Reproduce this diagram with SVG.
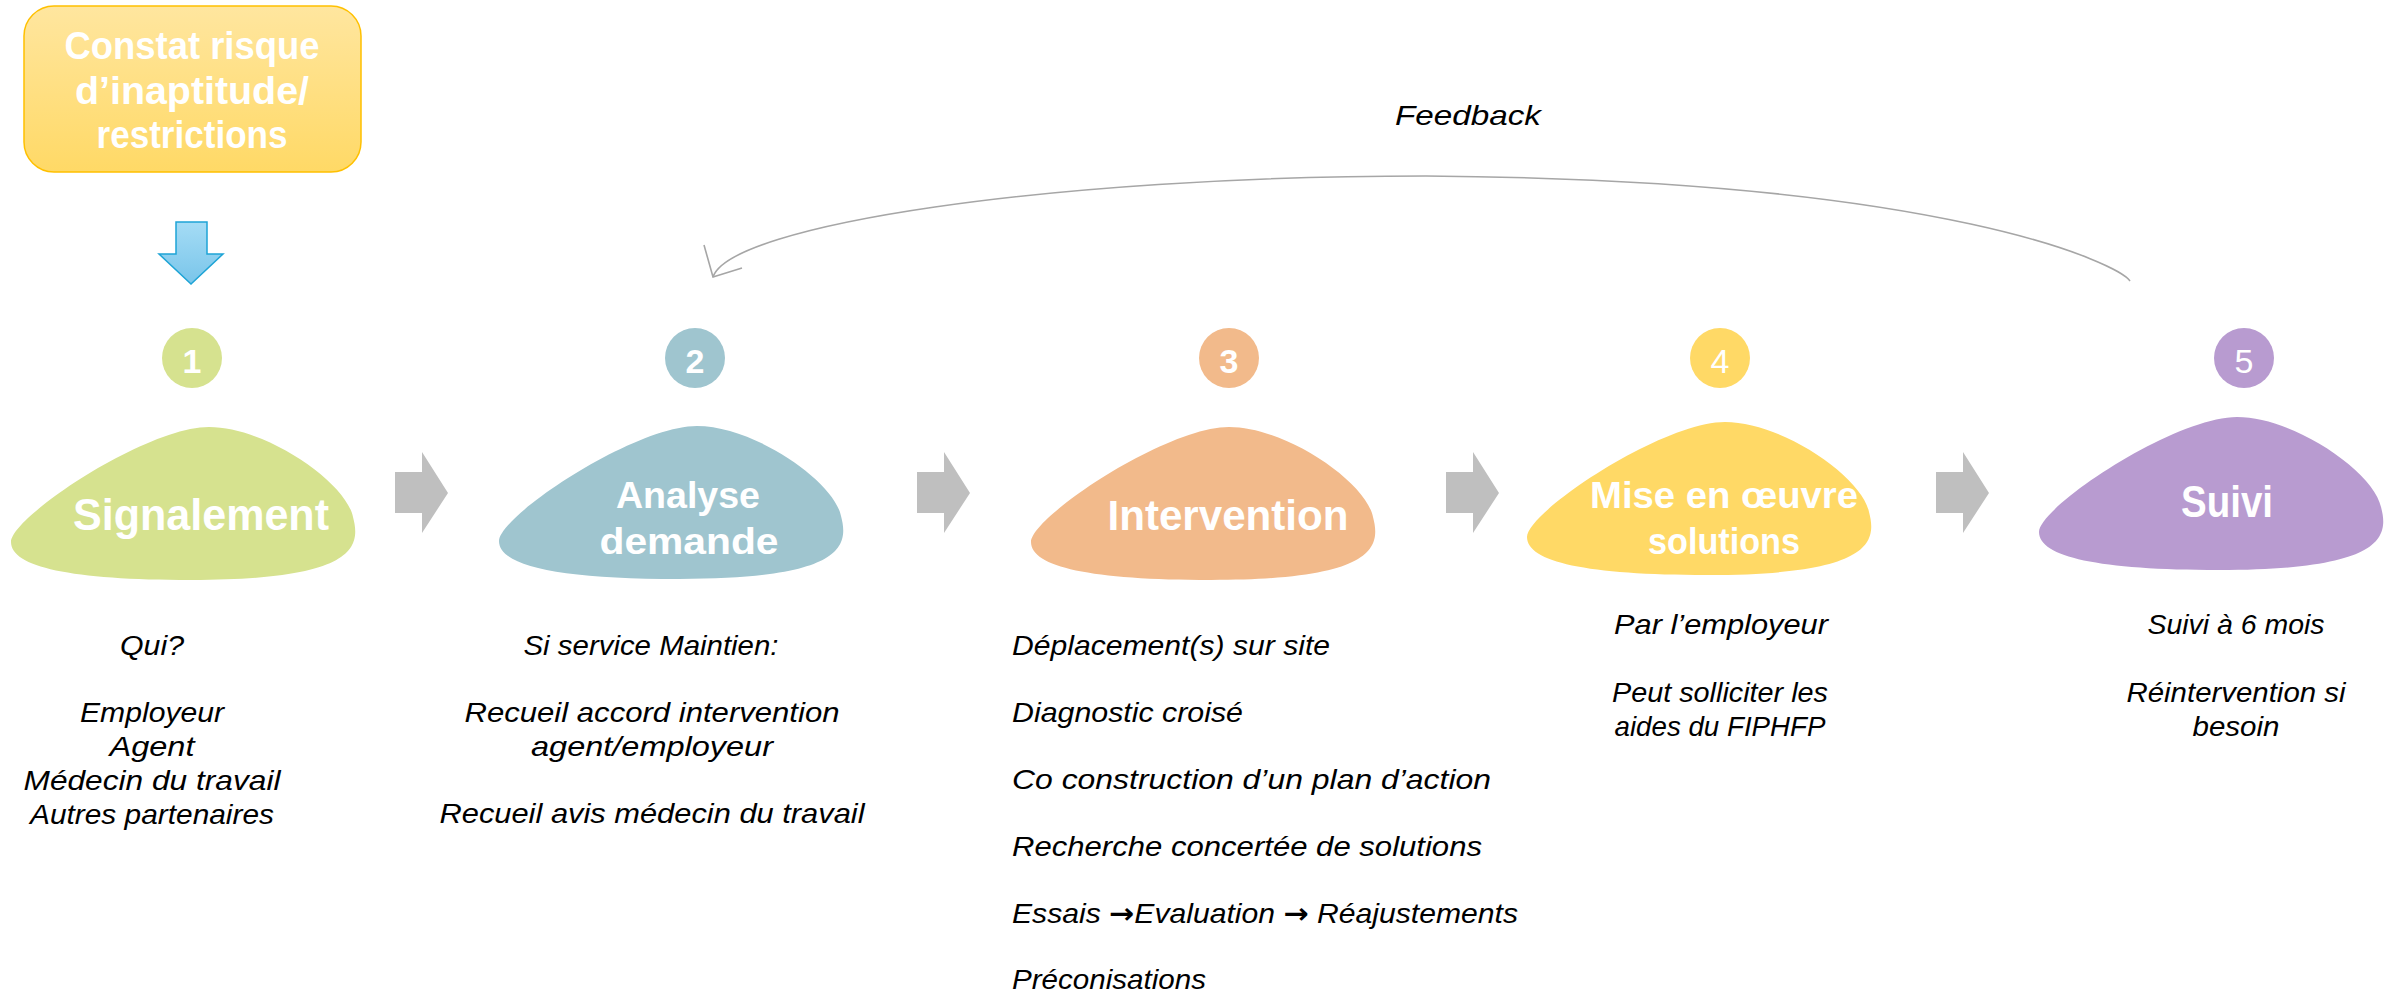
<svg xmlns="http://www.w3.org/2000/svg" xmlns:xlink="http://www.w3.org/1999/xlink" width="2400" height="996" viewBox="0 0 2400 996">
<style>
.title{font-family:"Liberation Sans",Arial,sans-serif;font-weight:bold;fill:#FFFFFF;text-anchor:middle}
.num{font-family:"Liberation Sans",Arial,sans-serif;fill:#FFFFFF;text-anchor:middle;font-size:34px}
.body{font-family:"Liberation Sans",Arial,sans-serif;font-style:italic;fill:#000000;font-size:28px}
.arr{font-family:"DejaVu Sans",sans-serif;font-style:normal;font-weight:bold}
.c{text-anchor:middle}
.conn{fill:#BFBFBF}
.fb{fill:none;stroke:#A6A6A6;stroke-width:1.6}
</style>
<defs>
<linearGradient id="gBox" x1="0" y1="0" x2="0" y2="1">
<stop offset="0" stop-color="#FFE69F"/>
<stop offset="1" stop-color="#FFD966"/>
</linearGradient>
<linearGradient id="gBlue" x1="0" y1="0" x2="0" y2="1">
<stop offset="0" stop-color="#A5DCF5"/>
<stop offset="1" stop-color="#79C5EA"/>
</linearGradient>
<path id="blob" d="M198,0 C255,0 335,55 342,90 C350,120 345,153 180,153 C60,153 0,140 0,115 C0,90 135,0 198,0 Z"/>
<path id="garrow" d="M0,20 H27 V0 L53,41 L27,81 V61 H0 Z"/>
</defs>

<g id="constat">
<rect x="24" y="6" width="337" height="166" rx="30" ry="30" fill="url(#gBox)" stroke="#FFC000" stroke-width="1.5"/>
<text class="title" font-size="38" x="192" y="59" textLength="255" lengthAdjust="spacingAndGlyphs">Constat risque</text>
<text class="title" font-size="38" x="192" y="104" textLength="234" lengthAdjust="spacingAndGlyphs">d’inaptitude/</text>
<text class="title" font-size="38" x="192" y="148" textLength="191" lengthAdjust="spacingAndGlyphs">restrictions</text>
</g>

<g id="down-arrow">
<path d="M176,222 H207 V254 H223 L191,284 L159,254 H176 Z" fill="url(#gBlue)" stroke="#1EA4D6" stroke-width="1.5"/>
</g>

<g id="connectors">
<use xlink:href="#garrow" href="#garrow" class="conn" transform="translate(395,452)"/>
<use xlink:href="#garrow" href="#garrow" class="conn" transform="translate(917,452)"/>
<use xlink:href="#garrow" href="#garrow" class="conn" transform="translate(1446,452)"/>
<use xlink:href="#garrow" href="#garrow" class="conn" transform="translate(1936,452)"/>
<path class="fb" d="M2130,281 C2120,265 1950,180 1426,176 C1050,176 730,225 713,277"/>
<path class="fb" d="M704,245 L713,277 L742,268"/>
<text class="body c" x="1468" y="125" textLength="146" lengthAdjust="spacingAndGlyphs">Feedback</text>
</g>

<g id="step1">
<circle cx="192" cy="358" r="30" fill="#D6E28F"/>
<text class="num" font-weight="bold" x="192" y="373">1</text>
<use xlink:href="#blob" href="#blob" transform="translate(11,427)" fill="#D6E28F"/>
<text class="title" font-size="44" x="201" y="530" textLength="256" lengthAdjust="spacingAndGlyphs">Signalement</text>
<text class="body c" x="152" y="655" textLength="64" lengthAdjust="spacingAndGlyphs">Qui?</text>
<text class="body c" x="152" y="722" textLength="144" lengthAdjust="spacingAndGlyphs">Employeur</text>
<text class="body c" x="152" y="756" textLength="85" lengthAdjust="spacingAndGlyphs">Agent</text>
<text class="body c" x="152" y="790" textLength="257" lengthAdjust="spacingAndGlyphs">Médecin du travail</text>
<text class="body c" x="152" y="824" textLength="244" lengthAdjust="spacingAndGlyphs">Autres partenaires</text>
</g>

<g id="step2">
<circle cx="695" cy="358" r="30" fill="#9FC5CF"/>
<text class="num" font-weight="bold" x="695" y="373">2</text>
<use xlink:href="#blob" href="#blob" transform="translate(499,426)" fill="#9FC5CF"/>
<text class="title" font-size="36" x="688" y="508" textLength="144" lengthAdjust="spacingAndGlyphs">Analyse</text>
<text class="title" font-size="36" x="689" y="554" textLength="179" lengthAdjust="spacingAndGlyphs">demande</text>
<text class="body c" x="651" y="655" textLength="255" lengthAdjust="spacingAndGlyphs">Si service Maintien:</text>
<text class="body c" x="652" y="722" textLength="375" lengthAdjust="spacingAndGlyphs">Recueil accord intervention</text>
<text class="body c" x="652" y="756" textLength="242" lengthAdjust="spacingAndGlyphs">agent/employeur</text>
<text class="body c" x="652" y="823" textLength="425" lengthAdjust="spacingAndGlyphs">Recueil avis médecin du travail</text>
</g>

<g id="step3">
<circle cx="1229" cy="358" r="30" fill="#F2BA8B"/>
<text class="num" font-weight="bold" x="1229" y="373">3</text>
<use xlink:href="#blob" href="#blob" transform="translate(1031,427)" fill="#F2BA8B"/>
<text class="title" font-size="42" x="1228" y="530" textLength="241" lengthAdjust="spacingAndGlyphs">Intervention</text>
<text class="body" font-size="29" x="1012" y="655" textLength="318" lengthAdjust="spacingAndGlyphs">Déplacement(s) sur site</text>
<text class="body" font-size="29" x="1012" y="722" textLength="231" lengthAdjust="spacingAndGlyphs">Diagnostic croisé</text>
<text class="body" font-size="29" x="1012" y="789" textLength="479" lengthAdjust="spacingAndGlyphs">Co construction d’un plan d’action</text>
<text class="body" font-size="29" x="1012" y="856" textLength="470" lengthAdjust="spacingAndGlyphs">Recherche concertée de solutions</text>
<text class="body" font-size="29" x="1012" y="923" textLength="506" lengthAdjust="spacingAndGlyphs">Essais <tspan class="arr">→</tspan>Evaluation <tspan class="arr">→</tspan>  Réajustements</text>
<text class="body" font-size="29" x="1012" y="989" textLength="194" lengthAdjust="spacingAndGlyphs">Préconisations</text>
</g>

<g id="step4">
<circle cx="1720" cy="358" r="30" fill="#FFD966"/>
<text class="num" x="1720" y="373">4</text>
<use xlink:href="#blob" href="#blob" transform="translate(1527,422)" fill="#FFD966"/>
<text class="title" font-size="36" x="1724" y="508" textLength="268" lengthAdjust="spacingAndGlyphs">Mise en œuvre</text>
<text class="title" font-size="36" x="1724" y="554" textLength="152" lengthAdjust="spacingAndGlyphs">solutions</text>
<text class="body c" x="1721" y="634" textLength="214" lengthAdjust="spacingAndGlyphs">Par l’employeur</text>
<text class="body c" x="1720" y="702" textLength="216" lengthAdjust="spacingAndGlyphs">Peut solliciter les</text>
<text class="body c" x="1720" y="736" textLength="211" lengthAdjust="spacingAndGlyphs">aides du FIPHFP</text>
</g>

<g id="step5">
<circle cx="2244" cy="358" r="30" fill="#B89BD0"/>
<text class="num" x="2244" y="373">5</text>
<use xlink:href="#blob" href="#blob" transform="translate(2039,417)" fill="#B89BD0"/>
<text class="title" font-size="44" x="2227" y="517" textLength="92" lengthAdjust="spacingAndGlyphs">Suivi</text>
<text class="body c" x="2236" y="634" textLength="177" lengthAdjust="spacingAndGlyphs">Suivi à 6 mois</text>
<text class="body c" x="2236" y="702" textLength="219" lengthAdjust="spacingAndGlyphs">Réintervention si</text>
<text class="body c" x="2236" y="736" textLength="87" lengthAdjust="spacingAndGlyphs">besoin</text>
</g>
</svg>
